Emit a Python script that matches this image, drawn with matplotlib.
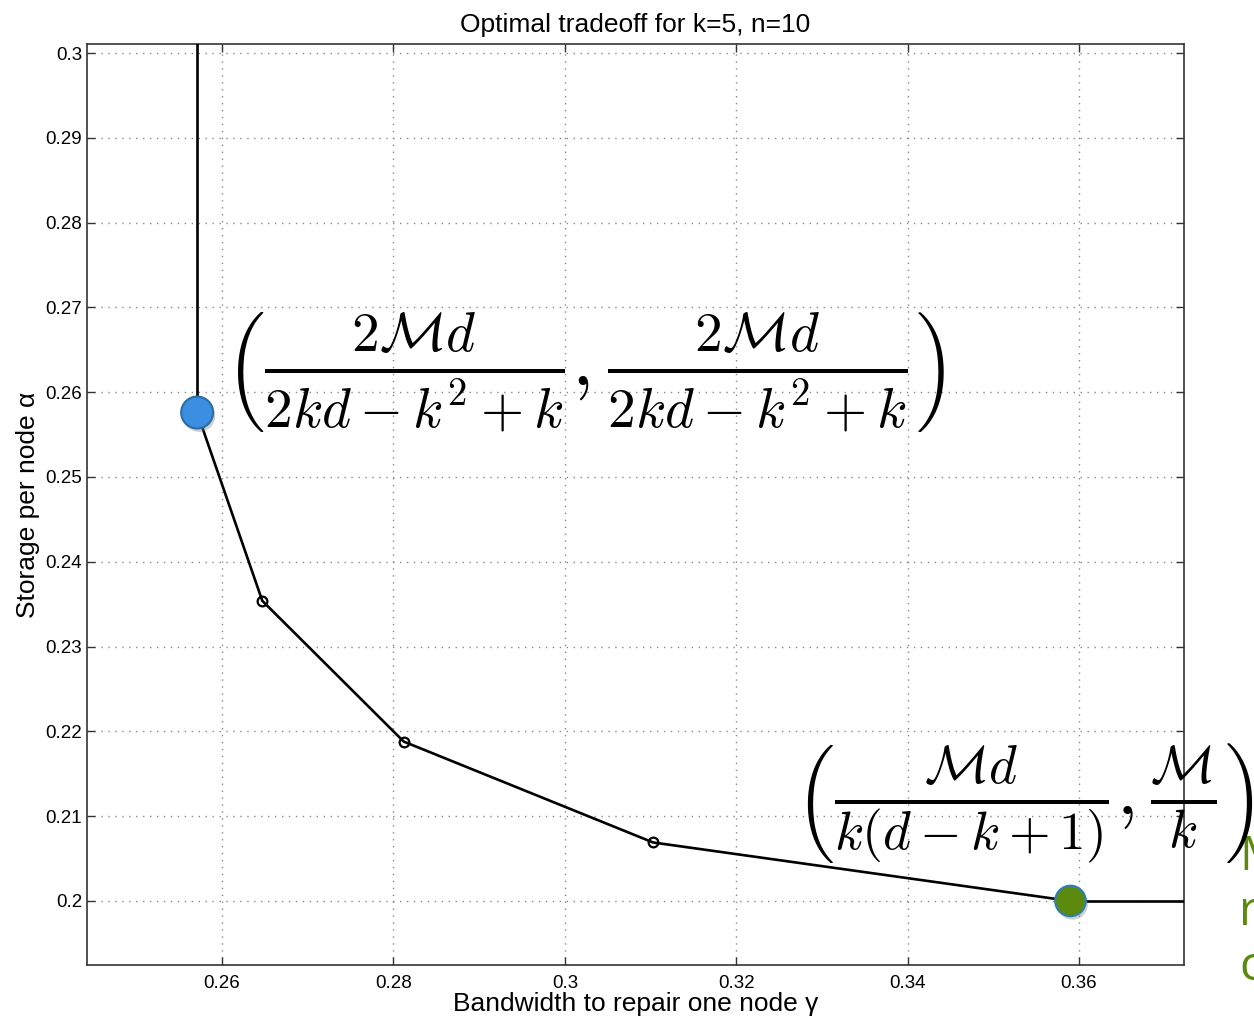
import numpy as np
import matplotlib
matplotlib.use('Agg')
from matplotlib import pyplot as plt
import matplotlib.patheffects as pe

plt.rcParams['font.family'] = ['Liberation Sans', 'DejaVu Sans']
plt.rcParams['mathtext.fontset'] = 'cm'

# tradeoff curve (bandwidth gamma, storage alpha), k=5, n=10
gamma = [0.2571, 0.2647, 0.2812, 0.3103, 0.3590]
alpha = [0.2576, 0.2354, 0.2188, 0.2069, 0.2000]
# MBR / MSR end points
mbr = (0.2571, 0.2576)
msr = (0.3590, 0.2000)

xticks = [0.26, 0.28, 0.30, 0.32, 0.34, 0.36]
xticklabels = ['0.26', '0.28', '0.3', '0.32', '0.34', '0.36']
yticks = [0.20, 0.21, 0.22, 0.23, 0.24, 0.25, 0.26, 0.27, 0.28, 0.29, 0.30]
yticklabels = ['0.2', '0.21', '0.22', '0.23', '0.24', '0.25', '0.26', '0.27', '0.28', '0.29', '0.3']

fig = plt.figure(figsize=(12.54, 10.19), dpi=100)
ax = fig.add_axes([0.0694, 0.053, 0.8748, 0.9038])

xmin, xmax = 0.24425, 0.37225
ymin, ymax = 0.19245, 0.30106

# curve with vertical and horizontal extensions
ax.plot([gamma[0], gamma[0]], [alpha[0], ymax + 0.01], color='black', lw=1.9, zorder=3)
ax.plot([gamma[-1], xmax + 0.01], [alpha[-1], alpha[-1]], color='black', lw=1.9, zorder=3)
ax.plot(gamma, alpha, color='black', lw=1.9, zorder=3)
ax.plot(gamma[1:-1], alpha[1:-1], 'o', mfc='none', mec='black', ms=7, mew=1.6, zorder=4)

shadow = [pe.SimplePatchShadow(offset=(1.5, -2.5), alpha=0.35, shadow_rgbFace='gray'), pe.Normal()]
ax.plot([mbr[0]], [mbr[1]], 'o', ms=23, mfc='#3b8ee0', mec='#2a6ea3', mew=1.5,
        zorder=6, clip_on=False, path_effects=shadow)
ax.plot([msr[0]], [msr[1]], 'o', ms=22, mfc='#5b8a0e', mec='#2f7fb0', mew=1.5,
        zorder=6, clip_on=False, path_effects=shadow)

ax.set_xlim(xmin, xmax)
ax.set_ylim(ymin, ymax)
ax.set_xticks(xticks)
ax.set_xticklabels(xticklabels)
ax.set_yticks(yticks)
ax.set_yticklabels(yticklabels)
ax.tick_params(direction='in', length=6, width=1, labelsize=13.5, top=True, right=True, color='#333333')
ax.tick_params(axis='x', pad=7)
ax.grid(True, linestyle=(0, (1, 4)), color='#888888', lw=1)
for s in ax.spines.values():
    s.set_linewidth(1.2)
    s.set_color('#333333')

ax.set_title('Optimal tradeoff for k=5, n=10', fontsize=19, pad=9)
ax.set_xlabel('Bandwidth to repair one node γ', fontsize=19, labelpad=0)
ax.set_ylabel('Storage per node α', fontsize=19, labelpad=4)

# formulas
fig.text(585 / 1254, 1 - 372 / 1019,
         r'$\left(\frac{2\mathcal{M}d}{2kd-k^2+k},\frac{2\mathcal{M}d}{2kd-k^2+k}\right)$',
         fontsize=57, ha='center', va='center', zorder=10)
fig.text(1024 / 1254, 1 - 804 / 1019,
         r'$\left(\frac{\mathcal{M}d}{k(d-k+1)},\frac{\mathcal{M}}{k}\right)$',
         fontsize=55, ha='center', va='center', zorder=10)

# clipped slide text at the right edge
fig.text(1239 / 1254, 1 - 912 / 1019, 'M\nr\nc', fontsize=34, color='#5b8a0e',
         family='Open Sans', ha='left', va='center', linespacing=1.2)

fig.savefig('out.png', dpi=100)
